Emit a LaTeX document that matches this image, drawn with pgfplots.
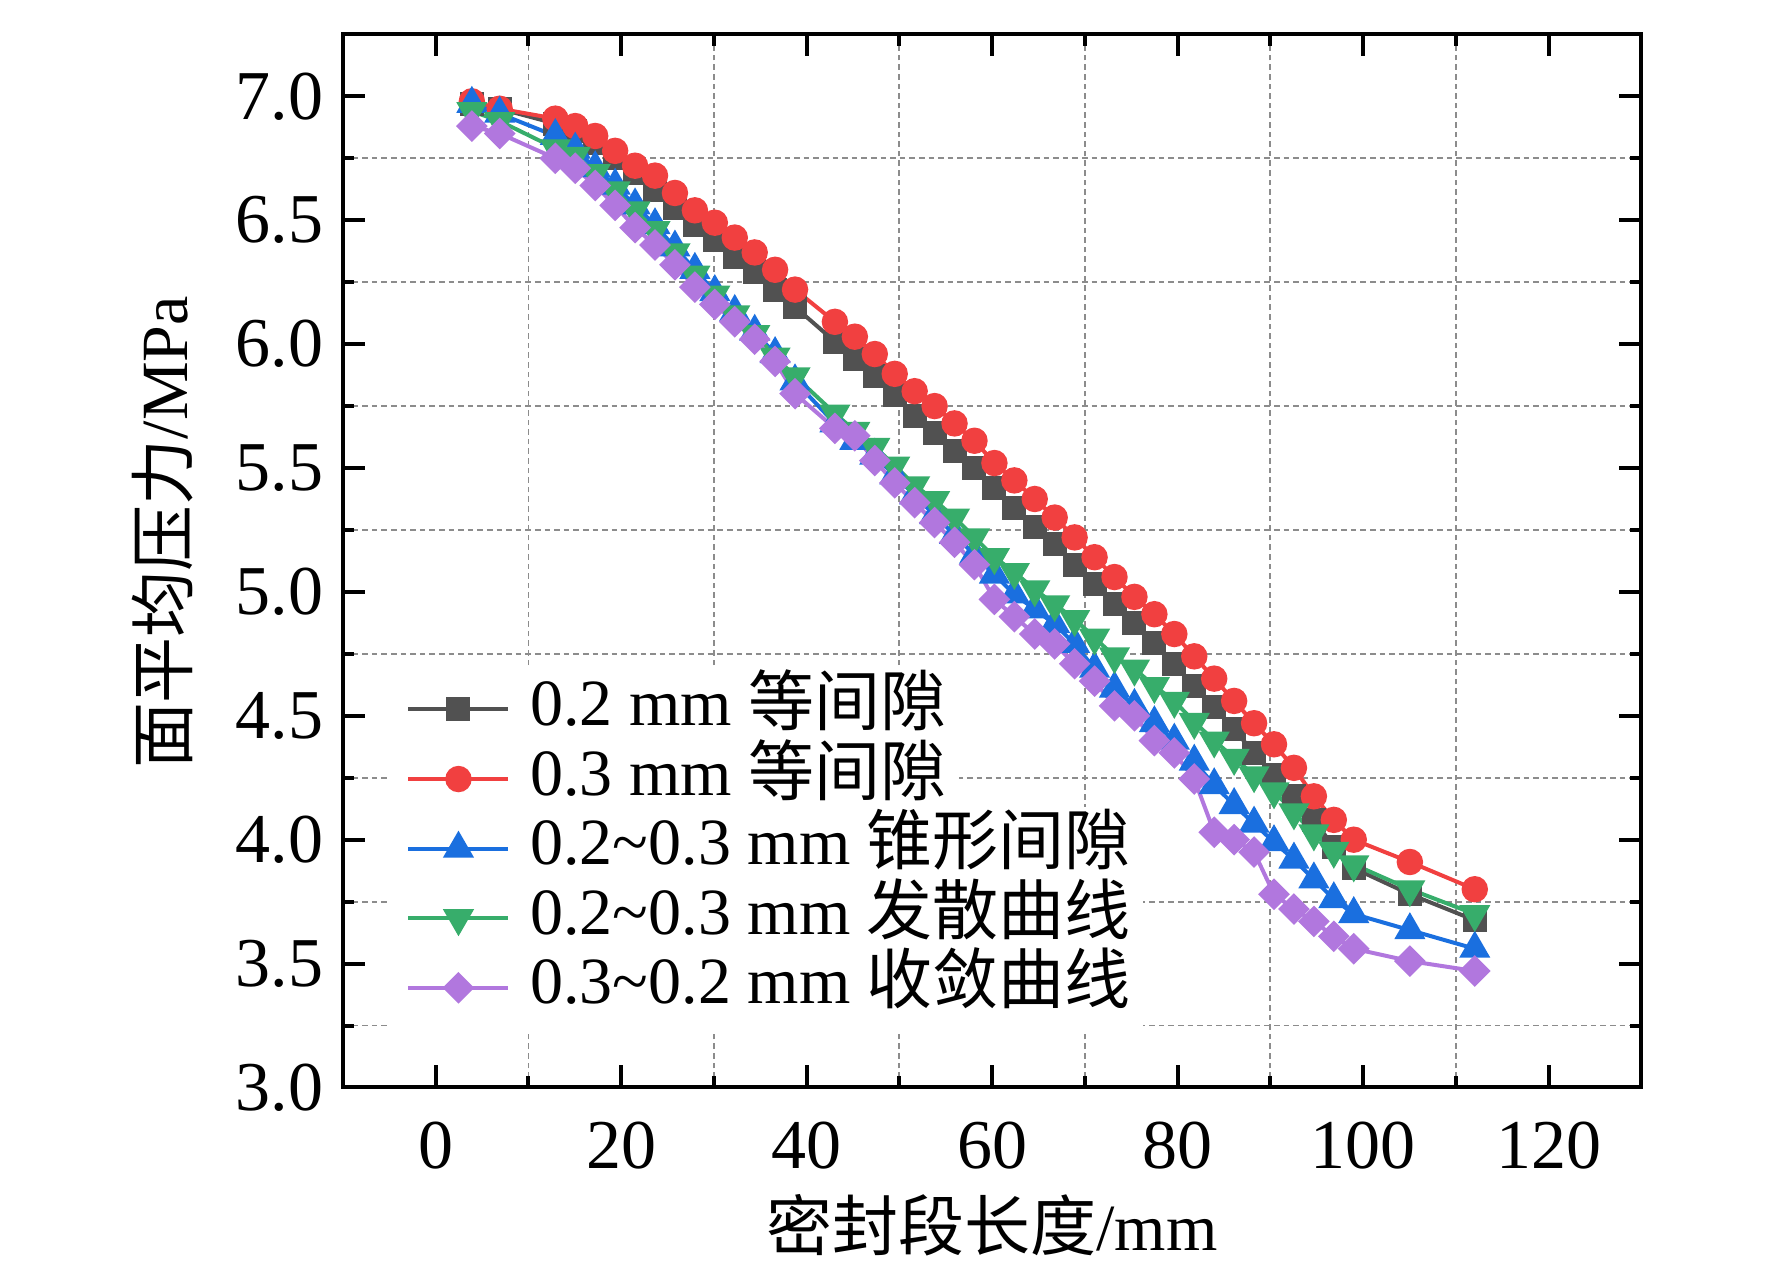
\documentclass[border=0pt]{standalone}
\usepackage{fontspec}
\setmainfont{Liberation Serif}
\newfontfamily\cjk{Noto Sans CJK SC}
\usepackage{pgfplots}
\pgfplotsset{compat=1.18}
\usepackage{pgfplotstable}
\usetikzlibrary{calc}
\definecolor{cA}{HTML}{515151}
\definecolor{cB}{HTML}{F14040}
\definecolor{cC}{HTML}{1A6FDF}
\definecolor{cD}{HTML}{37AD6B}
\definecolor{cE}{HTML}{B177DE}
\pgfplotstableread{
x      A      B      C      D      E
3.9    6.97   6.98   6.97   6.94   6.88
6.9    6.95   6.95   6.93   6.90   6.85
12.9   6.89   6.91   6.84   6.79   6.75
15.05  6.86   6.88   6.785  6.76   6.71
17.2   6.81   6.84   6.71   6.69   6.64
19.35  6.75   6.78   6.64   6.62   6.56
21.5   6.69   6.72   6.56   6.54   6.47
23.65  6.62   6.68   6.48   6.46   6.40
25.8   6.55   6.61   6.39   6.37   6.32
27.95  6.48   6.54   6.30   6.28   6.23
30.1   6.42   6.49   6.21   6.20   6.16
32.25  6.35   6.43   6.13   6.12   6.09
34.4   6.29   6.37   6.05   6.04   6.02
36.6   6.22   6.30   5.96   5.95   5.93
38.75  6.15   6.22   5.85   5.87   5.80
43.05  6.01   6.09   5.68   5.72   5.66
45.2   5.94   6.03   5.61   5.65   5.63
47.35  5.87   5.96   5.55   5.585  5.53
49.5   5.795  5.88   5.47   5.51   5.44
51.65  5.71   5.81   5.39   5.43   5.36
53.8   5.64   5.75   5.31   5.37   5.28
55.95  5.57   5.68   5.23   5.30   5.20
58.1   5.50   5.61   5.15   5.22   5.11
60.25  5.42   5.52   5.07   5.14   4.97
62.4   5.34   5.45   4.99   5.08   4.90
64.6   5.26   5.375  4.93   5.01   4.83
66.75  5.195  5.30   4.87   4.95   4.79
68.9   5.11   5.22   4.79   4.89   4.71
71.05  5.03   5.14   4.69   4.815  4.64
73.2   4.95   5.06   4.61   4.74   4.54
75.35  4.875  4.98   4.54   4.69   4.50
77.5   4.795  4.91   4.47   4.62   4.40
79.65  4.71   4.83   4.40   4.56   4.35
81.8   4.62   4.74   4.315  4.475  4.245
83.95  4.535  4.65   4.22   4.40   4.03
86.1   4.445  4.56   4.14   4.33   4.00
88.25  4.35   4.47   4.065  4.26   3.95
90.4   4.26   4.385  3.99   4.195  3.78
92.55  4.175  4.29   3.92   4.11   3.72
94.7   4.08   4.175  3.84   4.025  3.67
96.85  3.97   4.08   3.76   3.955  3.61
99.0   3.885  4.00   3.70   3.90   3.56
105.05 3.78   3.91   3.635  3.80   3.51
112.05 3.675  3.80   3.56   3.70   3.47
}\datatable
\begin{document}
\begin{tikzpicture}
\begin{axis}[
  scale only axis, width=324.6pt, height=263.3pt,
  xmin=-10, xmax=130, ymin=3, ymax=7.25,
  xtick={0,20,...,120}, ytick={3,3.5,...,7},
  minor x tick num=1, minor y tick num=1,
  grid=minor,
  minor grid style={black!45, dash pattern=on 1.4pt off 1pt, line width=0.45pt},
  axis line style={line width=1pt},
  tick style={black, line width=1pt},
  major tick length=5.5pt, minor tick length=2.8pt,
  tick align=inside,
  /pgf/number format/assume math mode=true,
  ticklabel style={font=\fontsize{17.5}{19}\selectfont},
  xticklabel style={yshift=-5pt},
  yticklabel style={xshift=-1.4pt, /pgf/number format/fixed, /pgf/number format/fixed zerofill, /pgf/number format/precision=1},
  xlabel={{\cjk 密封段长度}/mm},
  ylabel={{\cjk 面平均压力}/MPa},
  label style={font=\fontsize{16.5}{18}\selectfont},
  xlabel style={at={(axis description cs:0.5,-0.1547)}, anchor=base},
  ylabel style={at={(axis description cs:-0.12,0.527)}, anchor=base},
  legend style={at={(0.036,0.4015)}, anchor=north west, fill=none, draw=none,
    font=\fontsize{16.5}{18}\selectfont, inner sep=0pt, row sep=-4.6pt, column sep=0pt,
    nodes={fill=white, inner ysep=3pt, inner xsep=3pt, text height=11.5pt, text depth=3.5pt},
    cells={anchor=west}},
  legend image code/.code={\fill[white] (-4pt,-10.5pt) rectangle (27pt,10.5pt);
    \draw[mark repeat=2,mark phase=2,#1] plot coordinates {(0pt,0pt) (12.5pt,0pt) (25pt,0pt)};},
]
\addplot[cA, line width=1pt, mark=square*, mark size=2.5pt, mark options={solid}] table[x=x,y=A]{\datatable};
\addlegendentry{0.2 mm {\cjk 等间隙}\hspace{18pt}}
\addplot[cB, line width=1pt, mark=*, mark size=2.8pt, mark options={solid}] table[x=x,y=B]{\datatable};
\addlegendentry{0.3 mm {\cjk 等间隙}\hspace{18pt}}
\addplot[cC, line width=1pt, mark=triangle*, mark size=3.5pt, mark options={solid}] table[x=x,y=C]{\datatable};
\addlegendentry{0.2\textasciitilde0.3 mm {\cjk 锥形间隙}\hspace{6pt}}
\addplot[cD, line width=1pt, mark=triangle*, mark size=3.5pt, mark options={solid, rotate=180}] table[x=x,y=D]{\datatable};
\addlegendentry{0.2\textasciitilde0.3 mm {\cjk 发散曲线}\hspace{6pt}}
\addplot[cE, line width=1pt, mark=square*, mark size=2.3pt, mark options={solid, rotate=45}] table[x=x,y=E]{\datatable};
\addlegendentry{0.3\textasciitilde0.2 mm {\cjk 收敛曲线}\hspace{6pt}}
\end{axis}
\pgfresetboundingbox
\path[use as bounding box] ($(current axis.south west)+(-85.75pt,-45.8pt)$) rectangle ($(current axis.north east)+(32.7pt,8.6pt)$);
\end{tikzpicture}
\end{document}
